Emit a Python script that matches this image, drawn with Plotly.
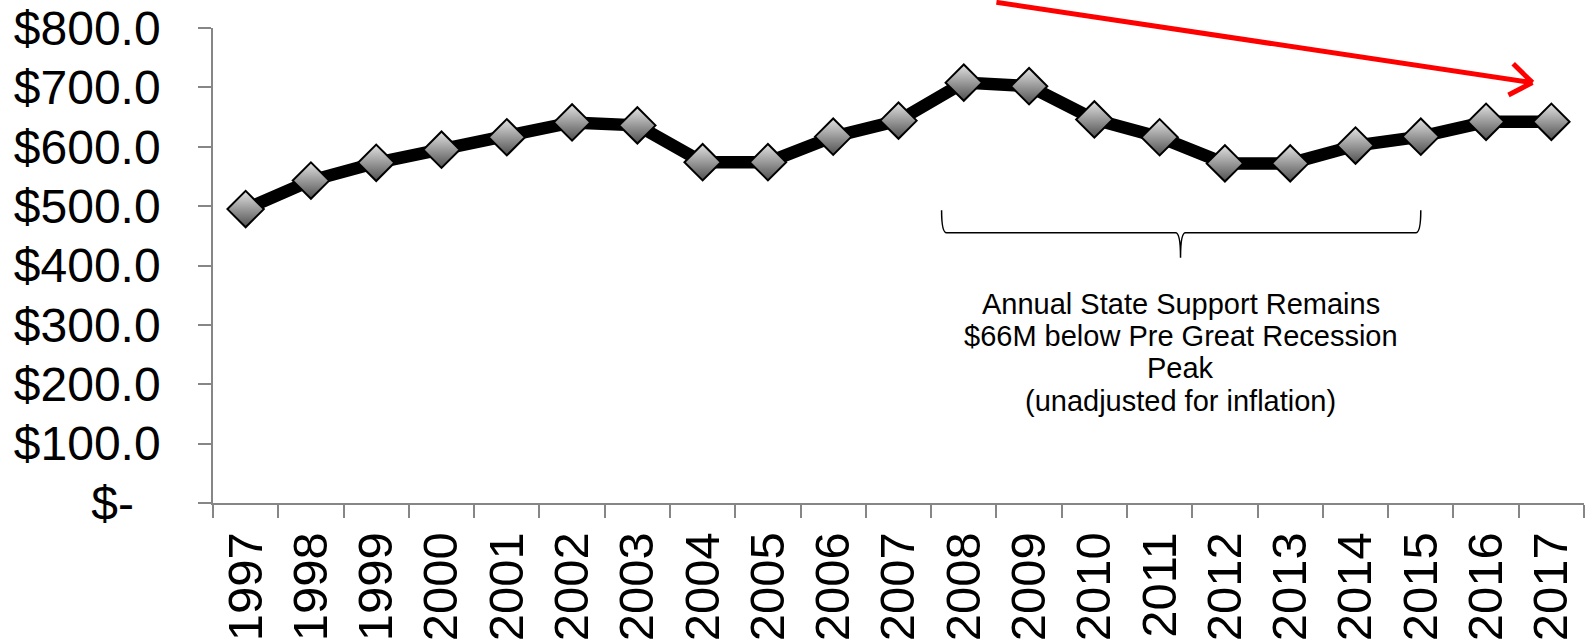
import math
import plotly.graph_objects as go

# State support by fiscal year ($ millions)
years = ["1997", "1998", "1999", "2000", "2001", "2002", "2003", "2004", "2005", "2006", "2007",
         "2008", "2009", "2010", "2011", "2012", "2013", "2014", "2015", "2016", "2017"]
support = [495, 543, 573, 595, 616, 641, 636, 574, 574, 617, 644,
           708, 702, 646, 616, 572, 572, 602, 617, 642, 642]

y_tick_vals = [0, 100, 200, 300, 400, 500, 600, 700, 800]
y_tick_text = ["$-\u00a0\u00a0", "$100.0", "$200.0", "$300.0", "$400.0",
               "$500.0", "$600.0", "$700.0", "$800.0"]

note_lines = ["Annual State Support Remains", "$66M below Pre Great Recession",
              "Peak", "(unadjusted for inflation)"]

W, H = 1586, 643
ML, MR, MT, MB = 213, 2, 26, 138
PW, PH = W - ML - MR, H - MT - MB
Y_MAX = 800
N = len(years)


def xp(i):
    """category index -> paper x"""
    return (i + 0.5) / N


def yp(v):
    """value -> paper y"""
    return v / Y_MAX


fig = go.Figure()
fig.add_trace(go.Scatter(
    x=years, y=support, mode="lines+markers",
    line=dict(color="black", width=12.5),
    marker=dict(symbol="diamond", size=28, color="#e2e2e2",
                gradient=dict(type="vertical", color="#505050"),
                line=dict(color="black", width=2)),
    showlegend=False, hoverinfo="x+y",
))

shapes = []

# red arrow ending at the 2008 peak level, just left of the last year
peak = max(support)
x0, y0 = xp(11.5), 1.054
x1, y1 = xp(19.71), yp(peak)
shapes.append(dict(type="line", xref="paper", yref="paper", x0=x0, y0=y0, x1=x1, y1=y1,
                   line=dict(color="#ff0000", width=5)))
# chevron head (computed in pixel space)
dx_px = (x1 - x0) * PW
dy_px = -(y1 - y0) * PH
ang = math.atan2(dy_px, dx_px)
head_len = 27
for s in (1, -1):
    a = ang + math.pi + s * math.radians(36)
    hx = x1 + head_len * math.cos(a) / PW
    hy = y1 - head_len * math.sin(a) / PH
    shapes.append(dict(type="line", xref="paper", yref="paper", x0=x1, y0=y1, x1=hx, y1=hy,
                       line=dict(color="#ff0000", width=5)))

# curly brace under 2008-2015
bl, br, bm = xp(10.66), xp(18.0), xp(14.32)
bt, bh, btip = yp(493), yp(455), yp(413)
cx = 5 / PW
path = (f"M{bl},{bt} Q{bl},{bh} {bl + cx},{bh} L{bm - cx},{bh} "
        f"Q{bm},{bh} {bm},{btip} Q{bm},{bh} {bm + cx},{bh} "
        f"L{br - cx},{bh} Q{br},{bh} {br},{bt}")
shapes.append(dict(type="path", xref="paper", yref="paper", path=path,
                   line=dict(color="black", width=1.5)))

# note text, one annotation per line for tight line spacing
note_x = bm
note_top = 304.5  # px of first line centre
note_step = 32.4
annotations = []
for k, line_text in enumerate(note_lines):
    ypx = note_top + k * note_step
    annotations.append(dict(xref="paper", yref="paper", x=note_x,
                            y=(H - MB - ypx) / PH, text=line_text, showarrow=False,
                            font=dict(size=29, color="black"),
                            xanchor="center", yanchor="middle"))

fig.update_layout(
    width=W, height=H,
    margin=dict(l=ML, r=MR, t=MT, b=MB, pad=0),
    paper_bgcolor="white", plot_bgcolor="white",
    font=dict(family="Liberation Sans, Arial, sans-serif", color="black"),
    shapes=shapes,
    annotations=annotations,
    xaxis=dict(type="category", range=[-0.5, N - 0.5], showgrid=False,
               showline=True, linecolor="#868686", linewidth=1.5,
               ticks="outside", ticklen=13, tickcolor="#868686", tickwidth=1.5,
               tickson="boundaries", tickangle=-90, ticklabelstandoff=8,
               ticklabeloverflow="allow", tickfont=dict(size=49)),
    yaxis=dict(range=[0, Y_MAX], showgrid=False, zeroline=False,
               showline=True, linecolor="#868686", linewidth=1.5,
               ticks="outside", ticklen=13, tickcolor="#868686", tickwidth=1.5,
               tickmode="array", tickvals=y_tick_vals, ticktext=y_tick_text,
               ticklabelstandoff=28, ticklabeloverflow="allow",
               tickfont=dict(size=48)),
)

fig.write_html("out.html")
